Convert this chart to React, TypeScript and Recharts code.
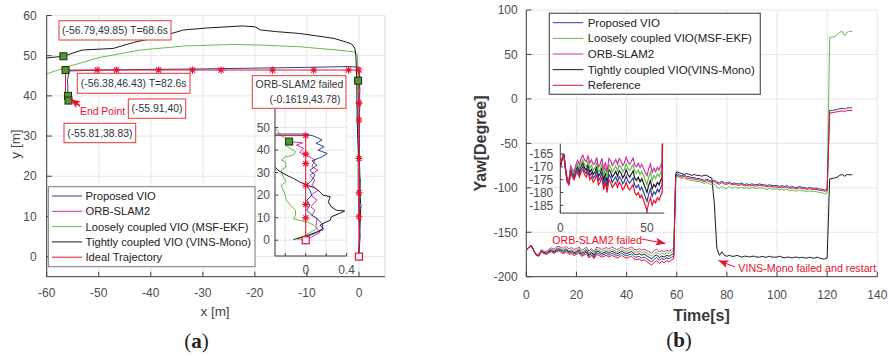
import React from 'react';
import { ComposedChart, Line, Scatter, XAxis, YAxis, CartesianGrid, ReferenceLine } from 'recharts';

// ---------- (a) trajectories, [x, y] in metres ----------
const proposedVio: [number, number][] = [
  [0, 0], [0.01, 1.5], [0.17, 4.7], [0.16, 7.4], [0.11, 9.6], [0.06, 11.1], [0.01, 13.3], [0.04, 15.6],
  [0.01, 17.8], [0.06, 20], [0.04, 22.2], [0.01, 24.4], [0.06, 26.7], [0.09, 28.9], [0.04, 31.1],
  [0.11, 33.3], [0.06, 35.2], [0.15, 36.8], [0.21, 38.5], [0.12, 40], [0.18, 41.5], [0.1, 43],
  [0.16, 44.5], [0.08, 46.2], [0, 47.1], [-2, 47.3], [-10, 47.1], [-20, 46.9], [-30, 46.7],
  [-40, 46.6], [-50, 46.4], [-55.7, 46.2], [-56.0, 44], [-55.95, 42], [-55.91, 40], [-55.81, 38.83],
];
const orbSlam2: [number, number][] = [
  [0, 0], [0.05, 1.2], [0.14, 3.5], [0.1, 6], [0.11, 9.6], [0.06, 11.1], [0.09, 13.3], [0.05, 14.8],
  [0.11, 17.8], [0.05, 20], [0.12, 22.2], [0.06, 24.4], [0.09, 26.7], [0.04, 28.9], [0.12, 31.1],
  [0.06, 32.6], [0.09, 35.6], [0.02, 37.5], [-0.06, 39], [-0.02, 40.8], [-0.09, 42.2], [-0.03, 43.2],
  [-0.1619, 43.78],
];
const msfEkf: [number, number][] = [
  [0, 0], [-0.09, 0.7], [-0.02, 1.8], [0.11, 5.2], [0.08, 6.7], [0.01, 8.1], [-0.07, 8.9], [-0.12, 9.6],
  [-0.1, 11.1], [-0.1, 13.3], [-0.15, 15.6], [-0.19, 17.8], [-0.2, 20], [-0.22, 22.2], [-0.24, 24.4],
  [-0.19, 25.9], [-0.22, 28.1], [-0.24, 31.1], [-0.19, 32.6], [-0.2, 34.8], [-0.24, 35.6], [-0.2, 37],
  [-0.12, 37.8], [-0.1, 39.3], [-0.15, 40.7], [-0.2, 42.2], [-0.14, 42.9], [-0.15, 44], [-0.25, 46.7],
  [-0.28, 48.9], [-0.32, 50.4], [-0.6, 50.8], [-1.2, 51.0], [-5, 51.5], [-11.2, 52.2], [-18, 52.6],
  [-24, 52.8], [-33.7, 52.4], [-42, 51.4], [-49.7, 49.6], [-56.1, 47.2], [-62, 44.6],
];
const vinsMono: [number, number][] = [
  [-0.12, 0.3], [-0.02, 1.5], [0.11, 3.7], [0.17, 5.2], [0.14, 6.7], [0.2, 8.1], [0.24, 8.9], [0.25, 10.4],
  [0.33, 11.9], [0.38, 13], [0.3, 13.3], [0.25, 14.8], [0.22, 17], [0.24, 19.3], [0.17, 20], [0.12, 22.2],
  [0.08, 23.4], [0.01, 24.4], [-0.06, 25.9], [-0.12, 27.4], [-0.19, 28.9], [-0.25, 30.4], [-0.29, 31.9],
  [-0.35, 35], [-0.4, 40], [-0.45, 45], [-0.6, 50], [-0.8, 51.9], [-1.5, 53], [-4.8, 54.3], [-11.2, 55.5],
  [-16, 56], [-18.9, 56.4], [-20, 57.2], [-22.4, 57.4], [-29.2, 56.9], [-33.7, 56.4], [-38, 54.8],
  [-43.3, 53.3], [-47.2, 51.8], [-53.2, 51.4], [-56.79, 49.85], [-62, 49.2],
];
const idealTrajectory: [number, number][] = [
  [0, 0], [0, 9.9], [0, 15.9], [0, 24.4], [0, 34], [0, 38.2], [0, 46.43], [-2, 46.43], [-8.7, 46.43],
  [-16.6, 46.43], [-26.5, 46.43], [-32, 46.43], [-38.5, 46.43], [-46.6, 46.43], [-50.3, 46.43],
  [-56.38, 46.43], [-56.38, 40],
];
const markedPoints: [number, number][] = [
  [-56.79, 49.85], [-56.38, 46.43], [-55.91, 40], [-55.81, 38.83], [-0.1619, 43.78],
];

// ---------- (b) yaw [deg] vs time [s] ----------
const timeA = [
  0, 1, 2, 3, 4, 5, 6, 7, 8, 9, 10, 11, 12, 13, 14, 15, 16, 17, 18, 19, 20, 21, 22, 23, 24, 25, 26, 27, 28, 29,
  30, 31, 32, 33, 34, 35, 36, 37, 38, 39, 40, 41, 42, 43, 44, 45, 46, 47, 48, 49, 50, 51, 52, 53, 54, 55, 56,
  57, 58, 58.8,
];
const timeB = [
  59.6, 60, 61, 62, 63, 64, 65, 66, 67, 68, 69, 70, 71, 72, 73, 74, 75, 76, 77, 78, 79, 80, 81, 82, 83, 84, 85,
  86, 87, 88, 89, 90, 91, 92, 93, 94, 95, 96, 97, 98, 99, 100, 101, 102, 103, 104, 105, 106, 107, 108, 109,
  110, 111, 112, 113, 114, 115, 116, 117, 118, 119, 120,
];
const timeC = [121, 122, 123, 124, 125, 126, 127, 128, 129, 130];

const refYawA = [
  -170, -167, -165, -171, -176, -177, -172, -174, -175, -173,
  -172, -174, -172, -171, -173, -174, -172, -175, -174, -176,
  -175, -173, -177, -176, -174, -179, -176, -180, -175, -176,
  -178, -177, -176, -178, -176, -177, -179, -178, -176, -178,
  -179, -178, -177, -180, -181, -180, -182, -181, -183, -185,
  -187, -184, -182, -185, -183, -184, -182, -183, -181, -180,
];
const propYawA = [
  -170, -167, -165, -171, -175.7, -176.5, -171.4, -173.3, -174.2, -172.1,
  -171, -172.9, -170.8, -169.8, -171.7, -172.6, -170.6, -173.5, -172.4, -174.4,
  -173.5, -171.4, -175.3, -174.3, -172.2, -177.2, -174.1, -178.1, -173, -174,
  -176, -174.9, -173.9, -175.8, -173.8, -174.7, -176.6, -175.6, -173.5, -175.5,
  -176.4, -175.3, -174.3, -177.2, -178.1, -177, -179, -177.9, -179.8, -181.6,
  -183.5, -180.6, -178.6, -181.5, -179.7, -180.6, -178.7, -179.8, -177.9, -177,
];
const vinsYawA = [
  -170, -167, -165, -170.8, -175.4, -176, -170.8, -172.6, -173.4, -171.2,
  -170, -171.8, -169.7, -168.5, -170.4, -171.3, -169.2, -172.1, -171, -172.9,
  -172, -169.9, -173.7, -172.6, -170.5, -175.4, -172.3, -176.2, -171, -172,
  -174, -172.9, -171.8, -173.6, -171.5, -172.4, -174.3, -173.2, -171.1, -173,
  -174, -172.8, -171.6, -174.5, -175.3, -174, -175.8, -174.6, -176.4, -178.2,
  -180, -177.1, -175.4, -178.6, -176.8, -177.9, -176, -177, -175, -174,
];
const msfYawA = [
  -170, -167, -165, -170.6, -175, -175.5, -170.2, -171.9, -172.6, -170.3,
  -169, -170.7, -168.4, -167.3, -169.2, -170, -167.8, -170.6, -169.4, -171.3,
  -170.5, -168.3, -172.1, -171, -168.8, -173.6, -170.4, -174.3, -169.2, -170.1,
  -172, -170.9, -169.7, -171.5, -169.4, -170.2, -172, -170.9, -168.8, -170.6,
  -171.5, -170.3, -169.1, -171.8, -172.6, -171.3, -173, -171.8, -173.5, -175.2,
  -177, -174, -172.2, -175.3, -173.4, -174.6, -172.7, -173.8, -172, -171,
];
const orbYawA = [
  -170, -167, -165, -170.4, -174.6, -175, -169.6, -171.2, -171.8, -169.3,
  -167.5, -169.1, -166.7, -165.5, -167.3, -168, -165.8, -168.5, -167.3, -169.1,
  -168.5, -166.3, -170.1, -168.9, -166.7, -171.4, -168.2, -172, -166.8, -167.6,
  -169.5, -168.3, -167.2, -169, -166.8, -167.7, -169.5, -168.4, -166.2, -168.1,
  -169, -167.8, -166.6, -169.3, -170, -168.6, -170.2, -169, -170.6, -172.1,
  -173.5, -170.7, -168.9, -172.2, -170.5, -171.9, -170.2, -171.3, -169.5, -168,
];

const refYawB = [
  -88,
  -86, -87, -88, -87, -89, -89, -90, -90, -91, -91,
  -92, -93, -92, -93, -94, -93, -95, -96, -94, -96,
  -96, -95, -97, -96, -97, -97, -96, -98, -97, -98,
  -97, -98, -98, -97, -98, -98, -99, -98, -99, -99,
  -99, -100, -99, -100, -99, -101, -100, -101, -101, -100,
  -101, -101, -102, -101, -102, -102, -102, -103, -103, -104,
  -103,
];
const propYawB = [
  -87,
  -84, -85.5, -86.5, -85.5, -87.5, -87.5, -88.5, -88.5, -89.5, -89.5,
  -90.5, -91.5, -90.5, -91.5, -92.5, -91.5, -93.5, -94.5, -92.5, -94.5,
  -94.5, -93.5, -95.5, -94.5, -95.5, -95.5, -94.5, -96.5, -95.5, -96.5,
  -95.5, -96.5, -96.5, -95.5, -96.5, -96.5, -97.5, -96.5, -97.5, -97.5,
  -97.5, -98.5, -97.5, -98.5, -97.5, -99.5, -98.5, -99.5, -99.5, -98.5,
  -99.5, -99.5, -100.5, -99.5, -100.5, -100.5, -100.5, -101.5, -101.5, -102.5,
  -101.5,
];
const msfYawB = [
  -89,
  -87, -88.5, -89.5, -89, -90.5, -91, -92, -92, -93, -93,
  -94, -95, -94, -95.5, -96.5, -96, -99, -101, -98, -101,
  -100.5, -98.5, -100.5, -99, -100, -100.5, -99, -101, -100, -101,
  -99.5, -100.5, -101, -100, -100.5, -101, -102, -100.5, -101.5, -101.5,
  -101, -102.5, -101.5, -102.5, -101.5, -103.5, -102.5, -103.5, -103.5, -102.5,
  -103.5, -103.5, -104.5, -103.5, -104.5, -104, -104.5, -105.5, -105.5, -107,
  -106,
];
const vinsYawB = [
  -84,
  -82, -83, -84, -85, -84, -85, -86, -85, -86, -86,
  -87, -86, -86, -88, -89, -118, -168, -176, -172, -176,
  -177, -176, -177, -177, -176, -177, -178, -177, -177, -178,
  -177, -177, -178, -178, -177, -178, -178, -177, -178, -178,
  -178, -177, -178, -179, -178, -178, -179, -178, -178, -179,
  -178, -179, -179, -178, -179, -179, -178, -179, -180, -180,
  -179,
];

const refYawC = [-16, -15.5, -15, -14.5, -14, -13.5, -14.5, -13, -13, -13];
const propYawC = [-13, -13, -12.5, -12, -11, -10.5, -11.5, -10, -10, -10];
const msfYawC = [69, 69.5, 70, 72, 75, 76, 71, 75, 76, 76];
const vinsYawC = [-90, -89.5, -89, -88, -86, -85, -87, -85, -85.5, -85];

const xTicksA = [-60, -50, -40, -30, -20, -10, 0];
const yTicksA = [0, 10, 20, 30, 40, 50, 60];
const xTicksB = [0, 20, 40, 60, 80, 100, 120, 140];
const yTicksB = [-200, -150, -100, -50, 0, 50, 100];

const FONT = '"Liberation Sans", Arial, Helvetica, sans-serif';
const AXIS = '#3f3f3f';
const GRID = '#e6e6e6';
const TICK = { fill: '#4d4d4d', fontSize: 12, fontFamily: FONT };
const BLUE = '#2b3f9e';
const GREEN = '#66bb44';
const MAGENTA = '#c9359f';
const BLACK = '#1a1a1a';
const RED = '#e8102c';

const range = (from: number, to: number, step: number) => {
  const out: number[] = [];
  for (let v = from; v <= to + 1e-9; v += step) out.push(Math.round(v * 1000) / 1000);
  return out;
};

const toPts = (arr: [number, number][]) => arr.map(([x, y]) => ({ x, y }));

const yawTime = [...timeA, ...timeB, ...timeC];
const refYaw = [...refYawA, ...refYawB, ...refYawC];
const propYaw = [...propYawA, ...propYawB, ...propYawC];
const msfYaw = [...msfYawA, ...msfYawB, ...msfYawC];
const vinsYaw = [...vinsYawA, ...vinsYawB, ...vinsYawC];
const yawRows = yawTime.map((t, i) => ({
  t,
  prop: propYaw[i],
  msf: msfYaw[i],
  orb: i < orbYawA.length ? orbYawA[i] : null,
  vins: vinsYaw[i],
  ref: refYaw[i],
}));

function Asterisk({ cx, cy }: { cx: number; cy: number }) {
  const r = 3.6;
  const d = r * 0.707;
  return (
    <g stroke={RED} strokeWidth={1.1}>
      <line x1={cx - r} y1={cy} x2={cx + r} y2={cy} />
      <line x1={cx} y1={cy - r} x2={cx} y2={cy + r} />
      <line x1={cx - d} y1={cy - d} x2={cx + d} y2={cy + d} />
      <line x1={cx - d} y1={cy + d} x2={cx + d} y2={cy - d} />
    </g>
  );
}

const idealDot = (p: any) => {
  const { cx, cy, index } = p;
  const key = `ideal-${index}`;
  if (cx == null || cy == null) return <g key={key} />;
  if (index === 0)
    return <rect key={key} x={cx - 3.5} y={cy - 3.5} width={7} height={7} fill="#fff" stroke={RED} strokeWidth={1.2} />;
  if (index >= idealTrajectory.length - 2) return <g key={key} />;
  return <Asterisk key={key} cx={cx} cy={cy} />;
};

const greenSquare = (p: any) => (
  <rect x={p.cx - 3.5} y={p.cy - 3.5} width={7} height={7} fill="#4f9a2b" stroke="#1f2a18" strokeWidth={1} />
);

const trajectoryLines = (w: number) => [
  <Line key="msf" data={toPts(msfEkf)} dataKey="y" type="linear" stroke={GREEN} strokeWidth={w} dot={false} activeDot={false} isAnimationActive={false} />,
  <Line key="vins" data={toPts(vinsMono)} dataKey="y" type="linear" stroke={BLACK} strokeWidth={w} dot={false} activeDot={false} isAnimationActive={false} />,
  <Line key="orb" data={toPts(orbSlam2)} dataKey="y" type="linear" stroke={MAGENTA} strokeWidth={w} dot={false} activeDot={false} isAnimationActive={false} />,
  <Line key="prop" data={toPts(proposedVio)} dataKey="y" type="linear" stroke={BLUE} strokeWidth={w} dot={false} activeDot={false} isAnimationActive={false} />,
  <Line key="ideal" data={toPts(idealTrajectory)} dataKey="y" type="linear" stroke={RED} strokeWidth={w} dot={idealDot} activeDot={false} isAnimationActive={false} />,
];

const yawLines = (w: number) => [
  <Line key="vins" dataKey="vins" type="linear" stroke={BLACK} strokeWidth={w} dot={false} activeDot={false} isAnimationActive={false} />,
  <Line key="msf" dataKey="msf" type="linear" stroke={GREEN} strokeWidth={w} dot={false} activeDot={false} isAnimationActive={false} />,
  <Line key="orb" dataKey="orb" type="linear" stroke={MAGENTA} strokeWidth={w} dot={false} activeDot={false} isAnimationActive={false} />,
  <Line key="prop" dataKey="prop" type="linear" stroke={BLUE} strokeWidth={w} dot={false} activeDot={false} isAnimationActive={false} />,
  <Line key="ref" dataKey="ref" type="linear" stroke={RED} strokeWidth={w} dot={false} activeDot={false} isAnimationActive={false} />,
];

function PanelA() {
  return (
    <div style={{ position: 'absolute', left: 0, top: 0 }}>
      <ComposedChart width={400} height={316} margin={{ top: 15.5, right: 15, bottom: 0, left: 0 }}>
        <CartesianGrid stroke={GRID} />
        <XAxis xAxisId="minor" type="number" dataKey="x" domain={[-60, 5]} ticks={range(-60, 4, 2)} interval={0} allowDataOverflow height={0} tick={false} axisLine={false} tickSize={-3} tickLine={{ stroke: AXIS }} />
        <XAxis type="number" dataKey="x" domain={[-60, 5]} ticks={xTicksA} interval={0} allowDataOverflow height={39.3} tickSize={-5} tickMargin={17} axisLine={{ stroke: AXIS }} tickLine={{ stroke: AXIS }} tick={TICK} />
        <YAxis yAxisId="minor" type="number" domain={[-5, 60]} ticks={range(-4, 60, 2)} interval={0} allowDataOverflow width={0} tick={false} axisLine={false} tickSize={-3} tickLine={{ stroke: AXIS }} />
        <YAxis type="number" domain={[-5, 60]} ticks={yTicksA} interval={0} allowDataOverflow width={46.7} tickSize={-5} tickMargin={15} axisLine={{ stroke: AXIS }} tickLine={{ stroke: AXIS }} tick={TICK} />
        <ReferenceLine x={5} stroke={GRID} />
        {trajectoryLines(1)}
        <Scatter data={toPts(markedPoints)} dataKey="y" shape={greenSquare} isAnimationActive={false} />
      </ComposedChart>
    </div>
  );
}

function InsetA() {
  return (
    <div style={{ position: 'absolute', left: 230, top: 100 }}>
      <ComposedChart width={130} height={180} margin={{ top: 8.4, right: 13.3, bottom: 0, left: 0 }}>
        <CartesianGrid stroke={GRID} fill="#fff" />
        <XAxis xAxisId="minor" type="number" dataKey="x" domain={[-0.3, 0.4]} ticks={range(-0.3, 0.4, 0.1)} interval={0} allowDataOverflow height={0} tick={false} axisLine={false} tickSize={-3} tickLine={{ stroke: AXIS }} />
        <XAxis type="number" dataKey="x" domain={[-0.3, 0.4]} ticks={[-0.2, 0, 0.2, 0.4]} interval={0} allowDataOverflow height={24} tickSize={-3} tickMargin={12.7} tickFormatter={(v: number) => (v === 0 || v === 0.4 ? String(v) : '')} axisLine={{ stroke: AXIS }} tickLine={{ stroke: AXIS }} tick={TICK} />
        <YAxis type="number" domain={[-7, 58.5]} ticks={[0, 10, 20, 30, 40, 50]} interval={0} allowDataOverflow width={45} tickSize={-3} tickMargin={8} axisLine={{ stroke: AXIS }} tickLine={{ stroke: AXIS }} tick={TICK} />
        {trajectoryLines(1)}
        <Scatter data={toPts(markedPoints).filter((p) => p.x > -0.3)} dataKey="y" shape={greenSquare} isAnimationActive={false} />
      </ComposedChart>
    </div>
  );
}

function PanelB() {
  return (
    <div style={{ position: 'absolute', left: 445, top: 0 }}>
      <ComposedChart width={445} height={316} data={yawRows} margin={{ top: 10, right: 12.7, bottom: 0, left: 0 }}>
        <CartesianGrid stroke={GRID} />
        <XAxis xAxisId="minor" type="number" dataKey="t" domain={[0, 140]} ticks={range(0, 140, 5)} interval={0} allowDataOverflow height={0} tick={false} axisLine={false} tickSize={-3} tickLine={{ stroke: AXIS }} />
        <XAxis type="number" dataKey="t" domain={[0, 140]} ticks={xTicksB} interval={0} allowDataOverflow height={39.3} tickSize={-5} tickMargin={19} axisLine={{ stroke: AXIS }} tickLine={{ stroke: AXIS }} tick={TICK} />
        <YAxis yAxisId="minor" type="number" domain={[-200, 100]} ticks={range(-200, 100, 10)} interval={0} allowDataOverflow width={0} tick={false} axisLine={false} tickSize={-3} tickLine={{ stroke: AXIS }} />
        <YAxis type="number" domain={[-200, 100]} ticks={yTicksB} interval={0} allowDataOverflow width={81.3} tickSize={-5} tickMargin={13.6} axisLine={{ stroke: AXIS }} tickLine={{ stroke: AXIS }} tick={TICK} />
        {yawLines(1)}
      </ComposedChart>
    </div>
  );
}

function InsetB() {
  return (
    <div style={{ position: 'absolute', left: 500, top: 135 }}>
      <ComposedChart width={175} height={110} data={yawRows} margin={{ top: 8.7, right: 10.7, bottom: 0, left: 0 }}>
        <CartesianGrid horizontal={false} vertical={false} fill="#fff" />
        <XAxis xAxisId="minor" type="number" dataKey="t" domain={[0, 60]} ticks={range(0, 60, 10)} interval={0} allowDataOverflow height={0} tick={false} axisLine={false} tickSize={-3} tickLine={{ stroke: AXIS }} />
        <XAxis type="number" dataKey="t" domain={[0, 60]} ticks={[0, 50]} interval={0} allowDataOverflow height={31.9} tickSize={-3} tickMargin={12.9} axisLine={{ stroke: AXIS }} tickLine={{ stroke: AXIS }} tick={TICK} />
        <YAxis type="number" domain={[-188, -161]} ticks={[-185, -180, -175, -170, -165]} interval={0} allowDataOverflow width={60.3} tickSize={-3} tickMargin={10} axisLine={{ stroke: AXIS }} tickLine={{ stroke: AXIS }} tick={TICK} />
        {yawLines(1.2)}
      </ComposedChart>
    </div>
  );
}

const legendA = [
  { label: 'Proposed VIO', color: BLUE },
  { label: 'ORB-SLAM2', color: MAGENTA },
  { label: 'Loosely coupled VIO (MSF-EKF)', color: GREEN },
  { label: 'Tightly coupled VIO (VINS-Mono)', color: BLACK },
  { label: 'Ideal Trajectory', color: RED },
];
const legendB = [
  { label: 'Proposed VIO', color: BLUE },
  { label: 'Loosely coupled VIO(MSF-EKF)', color: GREEN },
  { label: 'ORB-SLAM2', color: MAGENTA },
  { label: 'Tightly coupled VIO(VINS-Mono)', color: BLACK },
  { label: 'Reference', color: RED },
];

const noteBoxes = [
  { x: 59, y: 20.7, w: 112, h: 19.3, lines: ['(-56.79,49.85) T=68.6s'] },
  { x: 77.3, y: 73.3, w: 112.7, h: 20, lines: ['(-56.38,46.43) T=82.6s'] },
  { x: 128.3, y: 99, w: 57.4, h: 19.3, lines: ['(-55.91,40)'] },
  { x: 64, y: 123.3, w: 71.7, h: 19.4, lines: ['(-55.81,38.83)'] },
];

function Overlay() {
  return (
    <svg width={890} height={356} style={{ position: 'absolute', left: 0, top: 0, pointerEvents: 'none' }} fontFamily={FONT}>
      <defs>
        <marker id="ah" viewBox="0 0 10 8" markerWidth={10} markerHeight={8} refX={10} refY={4} orient="auto" markerUnits="userSpaceOnUse">
          <path d="M0,0 L10,4 L0,8 L2.5,4 Z" fill={RED} />
        </marker>
      </defs>

      {/* axis titles */}
      <text x={215} y={311.5} textAnchor="middle" dominantBaseline="central" fontSize={13.5} fill="#444">x [m]</text>
      <text transform="translate(15,144) rotate(-90)" textAnchor="middle" dominantBaseline="central" fontSize={13.5} fill="#444">y [m]</text>
      <text x={701.5} y={315} textAnchor="middle" dominantBaseline="central" fontSize={16} fontWeight="bold" fill="#3a3a3a">Time[s]</text>
      <text transform="translate(480,143.5) rotate(-90)" textAnchor="middle" dominantBaseline="central" fontSize={16} fontWeight="bold" fill="#3a3a3a">Yaw[Degree]</text>

      {/* legend (a) */}
      <rect x={48.3} y={186.7} width={206.7} height={80} fill="#fff" stroke="#777" strokeWidth={1} />
      {legendA.map((e, i) => (
        <g key={e.label}>
          <line x1={52} x2={82} y1={196 + i * 15.3} y2={196 + i * 15.3} stroke={e.color} strokeWidth={1} />
          <text x={85.5} y={196 + i * 15.3} dominantBaseline="central" fontSize={11.2} fill="#222">{e.label}</text>
        </g>
      ))}

      {/* legend (b) */}
      <rect x={549.3} y={13.3} width={211} height={81} fill="#fff" stroke="#555" strokeWidth={1.2} />
      {legendB.map((e, i) => (
        <g key={e.label}>
          <line x1={552.7} x2={583.3} y1={22.7 + i * 15.65} y2={22.7 + i * 15.65} stroke={e.color} strokeWidth={1} />
          <text x={587.7} y={22.7 + i * 15.65} dominantBaseline="central" fontSize={11.5} fill="#222">{e.label}</text>
        </g>
      ))}

      {/* notes (a) */}
      {noteBoxes.map((b) => (
        <g key={b.lines[0]}>
          <rect x={b.x} y={b.y} width={b.w} height={b.h} fill="#fff" stroke="#e8353b" strokeWidth={1} />
          <text x={b.x + b.w / 2} y={b.y + b.h / 2} textAnchor="middle" dominantBaseline="central" fontSize={10.4} fill="#333">{b.lines[0]}</text>
        </g>
      ))}
      <rect x={252.3} y={75.7} width={93.7} height={32.6} fill="#fff" stroke="#e8353b" strokeWidth={1} />
      <text x={299.5} y={84.7} textAnchor="middle" dominantBaseline="central" fontSize={10.4} fill="#333">ORB-SLAM2 failed</text>
      <text x={305} y={99.3} textAnchor="middle" dominantBaseline="central" fontSize={10.4} fill="#333">(-0.1619,43.78)</text>
      <text x={80} y={111} dominantBaseline="central" fontSize={10.4} fill={RED}>End Point</text>
      <line x1={80} y1={106} x2={70.5} y2={99} stroke={RED} strokeWidth={1.6} markerEnd="url(#ah)" />

      {/* notes (b) */}
      <text x={552.3} y={240} dominantBaseline="central" fontSize={10.6} fill={RED}>ORB-SLAM2 failed</text>
      <line x1={641.5} y1={239} x2={665.5} y2={243.5} stroke={RED} strokeWidth={1} markerEnd="url(#ah)" />
      <text x={738.3} y={268.3} dominantBaseline="central" fontSize={10.7} fill={RED}>VINS-Mono failed and restart</text>
      <line x1={735} y1={267} x2={718.5} y2={260.5} stroke={RED} strokeWidth={1} markerEnd="url(#ah)" />

      {/* panel labels */}
      <text x={196.5} y={341} textAnchor="middle" dominantBaseline="central" fontFamily='"Liberation Serif", serif' fontSize={21} fill="#222">
        (<tspan fontWeight="bold">a</tspan>)
      </text>
      <text x={679} y={340} textAnchor="middle" dominantBaseline="central" fontFamily='"Liberation Serif", serif' fontSize={21} fill="#222">
        (<tspan fontWeight="bold">b</tspan>)
      </text>
    </svg>
  );
}

export default function App() {
  return (
    <div style={{ position: 'absolute', left: 0, top: 0, width: 890, height: 356, background: '#fff', overflow: 'hidden' }}>
      <PanelA />
      <PanelB />
      <InsetA />
      <InsetB />
      <Overlay />
    </div>
  );
}
